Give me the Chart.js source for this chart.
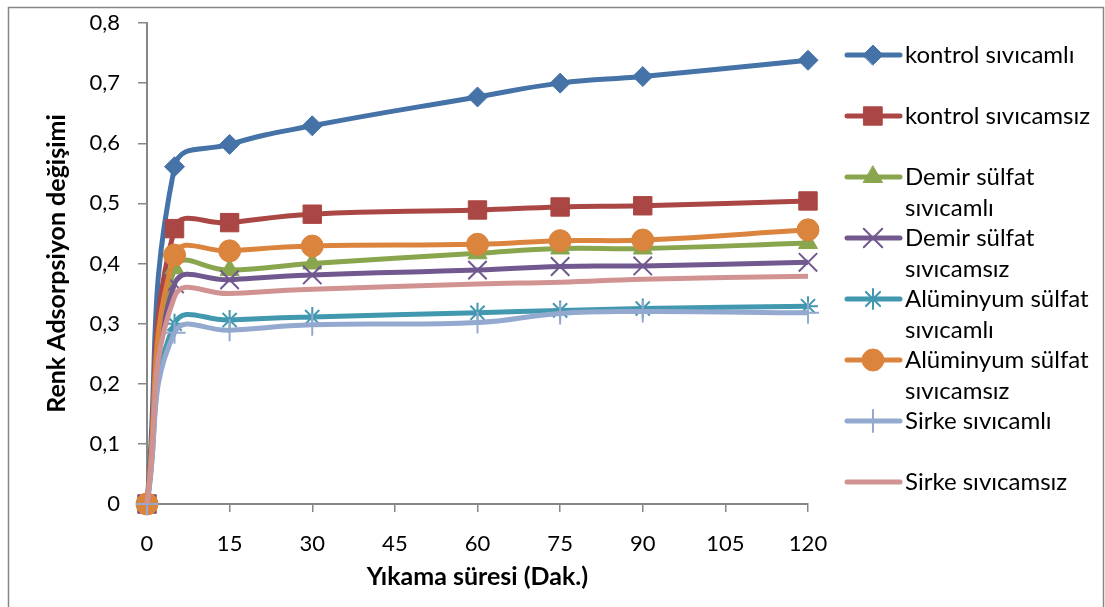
<!DOCTYPE html>
<html>
<head>
<meta charset="utf-8">
<script src="https://cdn.jsdelivr.net/npm/chart.js@4"></script>
<style>
  html, body { margin: 0; padding: 0; background: #fff; }
  #kutu { position: relative; width: 1105px; height: 607px; }
</style>
</head>
<body>
<div id="kutu"><canvas id="grafik" width="1105" height="607"></canvas></div>
<script>
// yikama suresi (dakika)
const sureler = [0, 5, 15, 30, 60, 75, 90, 120];

const kontrolSivicamli = [0, 0.561, 0.598, 0.629, 0.677, 0.700, 0.711, 0.738];
const kontrolSivicamsiz = [0, 0.458, 0.468, 0.482, 0.489, 0.494, 0.496, 0.504];
const demirSivicamli = [0, 0.392, 0.389, 0.400, 0.417, 0.425, 0.425, 0.434];
const demirSivicamsiz = [0, 0.366, 0.373, 0.381, 0.389, 0.395, 0.396, 0.402];
const alumSivicamli = [0, 0.300, 0.306, 0.311, 0.318, 0.322, 0.325, 0.329];
const alumSivicamsiz = [0, 0.414, 0.421, 0.429, 0.432, 0.438, 0.439, 0.456];
const sirkeSivicamli = [0, 0.285, 0.289, 0.298, 0.302, 0.317, 0.320, 0.318];
const sirkeSivicamsiz = [0, 0.345, 0.350, 0.357, 0.366, 0.369, 0.374, 0.379];

const seriAdlari = [
  "kontrol sıvıcamlı", "kontrol sıvıcamsız",
  "Demir sülfat sıvıcamlı", "Demir sülfat sıvıcamsız",
  "Alüminyum sülfat sıvıcamlı", "Alüminyum sülfat sıvıcamsız",
  "Sirke sıvıcamlı", "Sirke sıvıcamsız"
];
const seriVerileri = [kontrolSivicamli, kontrolSivicamsiz, demirSivicamli, demirSivicamsiz,
  alumSivicamli, alumSivicamsiz, sirkeSivicamli, sirkeSivicamsiz];
const renkler = ["#4572A7", "#AA4643", "#89A54E", "#71588F", "#4198AF", "#DB843D", "#93A9CF", "#D19392"];
const isaretler = ["rectRot", "rect", "triangle", "crossRot", "star", "circle", "cross", false];
const isaretBoyu = [10, 13, 11, 13, 10, 11, 11, 0];

const yaziTipi = "Lato, 'Open Sans', sans-serif";

const veriSetleri = seriAdlari.map((ad, i) => ({
  label: ad,
  data: seriVerileri[i].map((v, j) => ({ x: sureler[j], y: v })),
  borderColor: renkler[i],
  backgroundColor: renkler[i],
  pointBorderColor: renkler[i],
  pointBackgroundColor: renkler[i],
  borderWidth: 5,
  tension: 0.45,
  pointStyle: isaretler[i],
  pointRadius: isaretBoyu[i],
  pointBorderWidth: (isaretler[i] == "crossRot" || isaretler[i] == "star" || isaretler[i] == "cross") ? 2 : 1,
  order: seriAdlari.length - i, // excel gibi: sonraki seri ustte
  clip: false
}));

// sag taraftaki lejant
const lejant = {
  id: "lejant",
  afterDraw(chart) {
    const ctx = chart.ctx;
    ctx.save();
    ctx.font = "24px " + yaziTipi;
    ctx.textBaseline = "middle";
    chart.data.datasets.forEach((ds, i) => {
      const y = 55 + i * 61;
      ctx.strokeStyle = ds.borderColor;
      ctx.lineWidth = 5;
      ctx.lineCap = "round";
      ctx.beginPath();
      ctx.moveTo(847, y);
      ctx.lineTo(900, y);
      ctx.stroke();
      if (ds.pointStyle) {
        ctx.fillStyle = ds.borderColor;
        ctx.lineWidth = ds.pointBorderWidth;
        Chart.helpers.drawPoint(ctx, { pointStyle: ds.pointStyle, radius: ds.pointRadius, rotation: 0, borderWidth: ds.pointBorderWidth }, 873, y);
      }
      // uzun adlari iki satira bol
      ctx.fillStyle = "#000";
      let satirlar = [ds.label];
      if (ctx.measureText(ds.label).width > 198) {
        const k = ds.label.lastIndexOf(" ");
        satirlar = [ds.label.slice(0, k), ds.label.slice(k + 1)];
      }
      satirlar.forEach((s, n) => ctx.fillText(s, 905, y + n * 31));
    });
    ctx.restore();
  }
};

const cerceve = {
  id: "cerceve",
  beforeDraw(chart) {
    const ctx = chart.ctx;
    ctx.save();
    ctx.strokeStyle = "#868686";
    ctx.lineWidth = 1.5;
    ctx.strokeRect(8.5, 7.5, 1095, 620);
    ctx.restore();
  }
};

const eksenRengi = "#868686";

new Chart(document.getElementById("grafik"), {
  type: "line",
  data: { datasets: veriSetleri },
  plugins: [cerceve, lejant],
  options: {
    responsive: false,
    animation: false,
    layout: { autoPadding: false, padding: { left: 0, top: 23, right: 297, bottom: 0 } },
    plugins: { legend: { display: false }, tooltip: { enabled: false } },
    scales: {
      x: {
        type: "linear",
        min: 0, max: 120,
        afterFit(s) { s.height = 103; },
        ticks: { stepSize: 15, color: "#000", padding: 19, font: { family: yaziTipi, size: 22 } },
        grid: { drawOnChartArea: false, color: eksenRengi, tickLength: 8, lineWidth: 1.5 },
        border: { color: eksenRengi, width: 2 },
        title: { display: true, text: "Yıkama süresi (Dak.)", color: "#000",
          font: { family: yaziTipi, size: 25, weight: "bold" }, padding: { top: 15, bottom: 15 } }
      },
      y: {
        min: 0, max: 0.8,
        afterFit(s) { s.width = 147; s.paddingTop = 0; s.paddingBottom = 0; },
        ticks: { stepSize: 0.1, color: "#000", padding: 18,
          font: { family: yaziTipi, size: 22 },
          callback: v => v === 0 ? "0" : v.toFixed(1).replace(".", ",") },
        grid: { drawOnChartArea: false, color: eksenRengi, tickLength: 9, lineWidth: 1.5 },
        border: { color: eksenRengi, width: 2 },
        title: { display: true, text: "Renk Adsorpsiyon değişimi", color: "#000",
          font: { family: yaziTipi, size: 25, weight: "bold" }, padding: { top: 42, bottom: 42 } }
      }
    }
  }
});
</script>
</body>
</html>
